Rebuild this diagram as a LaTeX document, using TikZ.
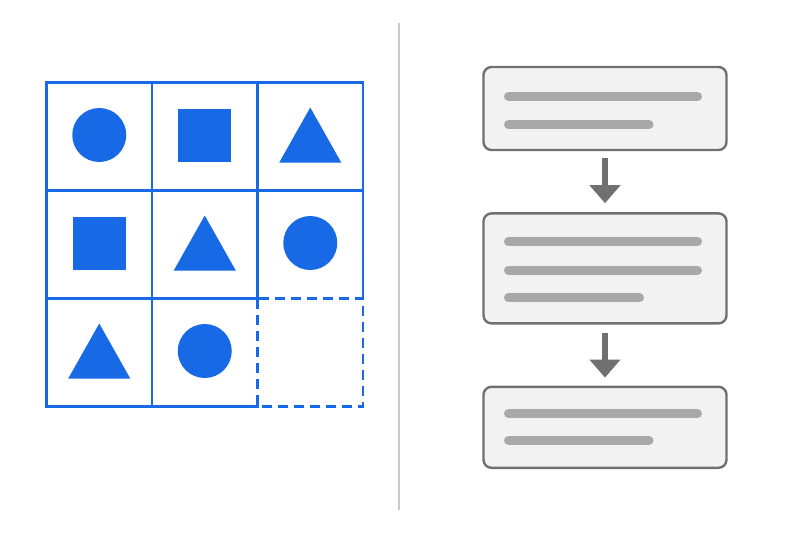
\documentclass[tikz,border=0pt]{standalone}
\usepackage{xcolor}
\usepackage{tikz}
\usetikzlibrary{positioning, arrows.meta}
\definecolor{PuzBlue}{HTML}{1769E5}
\definecolor{FlowFill}{HTML}{F2F2F2}
\definecolor{FlowEdge}{HTML}{707070}
\definecolor{FlowBar}{HTML}{A8A8A8}
\definecolor{SplitGray}{HTML}{C8C8C8}

\begin{document}
\begin{tikzpicture}[x=1pt,y=-1pt,
  gridline/.style={PuzBlue,line width=2.2pt,line cap=rect},
  flowbox/.style={draw=FlowEdge,fill=FlowFill,line width=2.4pt,rounded corners=8pt,
    minimum width=243pt,inner sep=0pt},
  textbar/.style={FlowBar,line width=9pt,line cap=round},
  flowarrow/.style={FlowEdge,line width=6pt,-{Triangle[width=30pt,length=18pt]}}]
  \useasboundingbox[fill=white] (0,0) rectangle (800,533);
  \def\X{46.5}\def\Y{82.5}\def\W{105.5}\def\H{108}
  % puzzle grid
  \foreach \i in {0,1}{
     \draw[gridline] ({\X+\W*\i},\Y)--({\X+\W*\i},{\Y+3*\H});
     \draw[gridline] (\X,{\Y+\H*\i})--({\X+3*\W},{\Y+\H*\i});}
  \foreach \i in {2,3}{
     \draw[gridline] ({\X+\W*\i},\Y)--({\X+\W*\i},{\Y+2*\H});
     \draw[gridline] (\X,{\Y+\H*\i})--({\X+2*\W},{\Y+\H*\i});}
  \draw[PuzBlue,line width=2.2pt,dash pattern=on 10pt off 6pt]
     ({\X+2*\W},{\Y+2*\H}) rectangle ({\X+3*\W},{\Y+3*\H});
  \foreach \c in {0,1,2}{\foreach \r in {0,1,2}{
     \coordinate (c\c\r) at ({\X+\W*(\c+0.5)},{\Y+\H*(\r+0.5)-1.5});}}
  \foreach \c/\r in {0/0,2/1,1/2}{\fill[PuzBlue] (c\c\r) circle (27pt);}
  \foreach \c/\r in {1/0,0/1}{\fill[PuzBlue] (c\c\r) ++(-26.5,-26.5) rectangle ++(53,53);}
  \foreach \c/\r in {2/0,1/1,0/2}{\fill[PuzBlue] (c\c\r) ++(0,-27.5) -- ++(31,55) -- ++(-62,0) -- cycle;}
  % divider
  \draw[SplitGray,line width=2pt] (399,23)--(399,510);
  % flow
  \node[flowbox,minimum height=83pt] (b1) at (605,108.5) {};
  \node[flowbox,minimum height=110pt,below=61pt of b1] (b2) {};
  \node[flowbox,minimum height=81pt,below=61pt of b2] (b3) {};
  \foreach \y/\e in {96.5/697.5,124.5/649,241.5/697.5,270/697.5,297.5/639.5,413.5/697.5,440.5/649}{
     \draw[textbar] (508.5,\y)--(\e,\y);}
  \draw[flowarrow] ([yshift=-7pt]b1.south)--([yshift=9pt]b2.north);
  \draw[flowarrow] ([yshift=-8pt]b2.south)--([yshift=8pt]b3.north);
\end{tikzpicture}
\end{document}
